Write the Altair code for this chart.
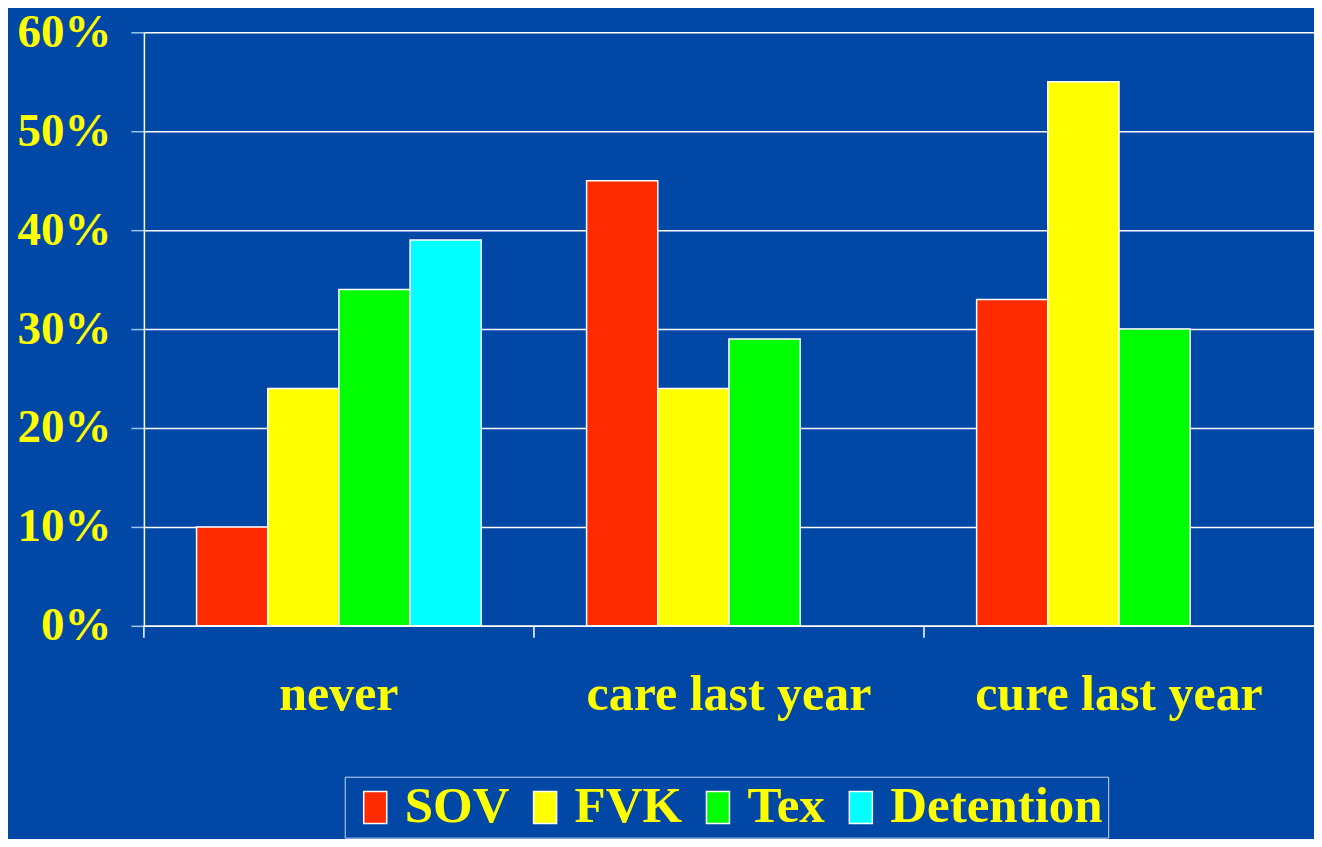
import altair as alt
import pandas as pd

categories = ["never", "care last year", "cure last year"]
series = ["SOV", "FVK", "Tex", "Detention"]
sov = [10, 45, 33]
fvk = [24, 24, 55]
tex = [34, 29, 30]
detention = [39, None, None]
colors = ["#FF2A00", "#FFFF00", "#00FF00", "#00FFFF"]
y_ticks = [0, 0.1, 0.2, 0.3, 0.4, 0.5, 0.6]

rows = []
for i, c in enumerate(categories):
    for s, vals in zip(series, [sov, fvk, tex, detention]):
        if vals[i] is not None:
            rows.append({"category": c, "series": s, "value": vals[i] / 100})
df = pd.DataFrame(rows)
cat_df = pd.DataFrame({"category": categories})

W = 1171
H = 594
FONT = "Liberation Serif"
YELLOW = "#FFFF00"
BG = "#0047A6"

x_axis = alt.Axis(
    title=None, labelAngle=0, ticks=False, domain=True, domainColor="white",
    domainWidth=1.5, grid=False, labelFont=FONT, labelFontSize=50,
    labelFontWeight="bold", labelColor=YELLOW, labelPadding=44,
    labelLimit=500,
)
x_scale = alt.Scale(domain=categories, paddingInner=0, paddingOuter=0)

bars = alt.Chart(df).mark_bar(stroke="white", strokeWidth=1.5).encode(
    x=alt.X("category:N", sort=categories, scale=x_scale, axis=x_axis),
    xOffset=alt.XOffset(
        "series:N", sort=series,
        scale=alt.Scale(domain=series, paddingInner=0, paddingOuter=0.74),
    ),
    y=alt.Y(
        "value:Q",
        scale=alt.Scale(domain=[0, 0.6], nice=False),
        axis=alt.Axis(
            title=None, values=y_ticks, format=".0%", tickSize=13,
            tickColor="#9EC8F0", tickWidth=1.5, domainColor="white",
            domainWidth=1.5, gridColor="white", gridWidth=1.5, labelPadding=20,
            labelFont=FONT, labelFontSize=47, labelFontWeight="bold",
            labelColor=YELLOW,
        ),
    ),
    color=alt.Color(
        "series:N", sort=series,
        scale=alt.Scale(domain=series, range=colors),
        legend=alt.Legend(
            title=None, orient="none", legendX=201, legendY=745,
            direction="horizontal", labelFont=FONT, labelFontSize=51,
            labelFontWeight="bold", labelColor=YELLOW, labelLimit=400,
            symbolType="M-0.72,-1H0.72V1H-0.72Z", symbolSize=1024,
            symbolStrokeColor="white", symbolStrokeWidth=1.5, symbolOpacity=1,
            labelOffset=4, columnPadding=10, padding=5,
            strokeColor="#C8D8F0",
        ),
    ),
)

ticks = alt.Chart(cat_df).mark_rule(color="white", strokeWidth=1.5).encode(
    x=alt.X("category:N", sort=categories, scale=x_scale, axis=x_axis,
            bandPosition=0),
    y=alt.value(H),
    y2=alt.value(H + 12),
)

chart = alt.layer(bars, ticks).properties(
    width=W, height=H, background=BG,
    padding={"left": 9, "top": 0, "right": 0, "bottom": 0},
).configure_view(stroke=None)

chart.save("out.html", embed_options={"renderer": "svg", "actions": False})
